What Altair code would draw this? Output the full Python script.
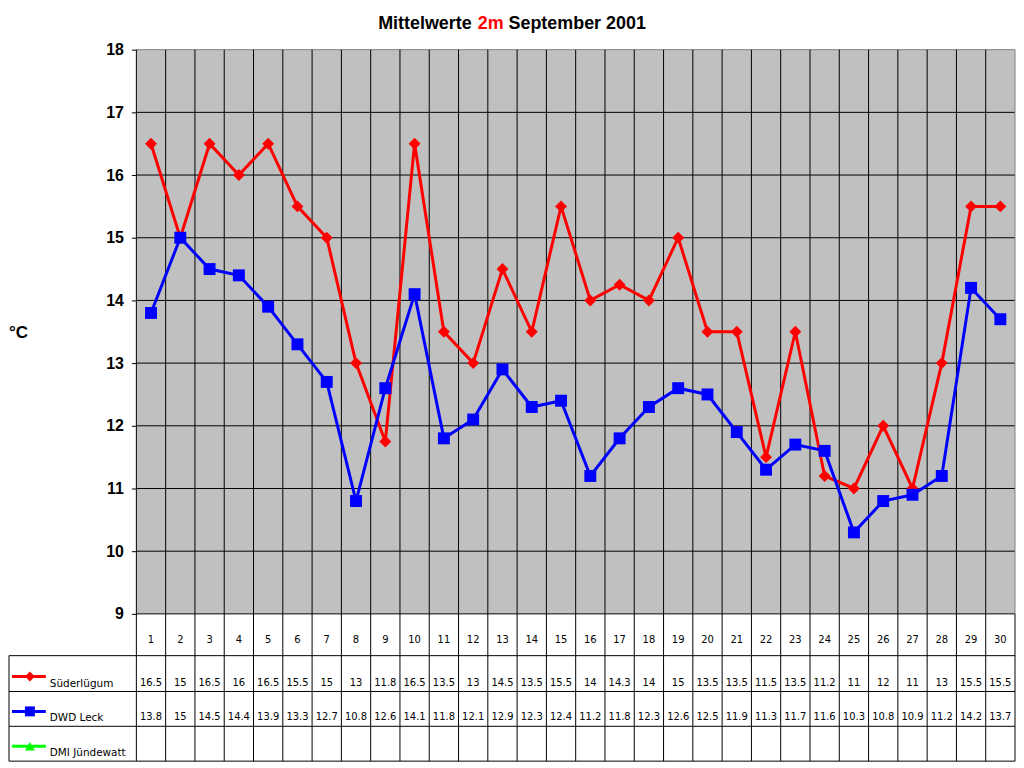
import altair as alt
import pandas as pd

# ---------------- data ----------------
DAYS = list(range(1, 31))
SERIES = ["Süderlügum", "DWD Leck", "DMI Jündewatt"]
COLORS = ["#FF0000", "#0000FF", "#00FF00"]
SHAPES = ["diamond", "square", "triangle-up"]

SUEDERLUEGUM = [16.5, 15, 16.5, 16, 16.5, 15.5, 15, 13, 11.75, 16.5,
                13.5, 13, 14.5, 13.5, 15.5, 14, 14.25, 14, 15, 13.5,
                13.5, 11.5, 13.5, 11.2, 11, 12, 11, 13, 15.5, 15.5]
DWD_LECK = [13.8, 15, 14.5, 14.4, 13.9, 13.3, 12.7, 10.8, 12.6, 14.1,
            11.8, 12.1, 12.9, 12.3, 12.4, 11.2, 11.8, 12.3, 12.6, 12.5,
            11.9, 11.3, 11.7, 11.6, 10.3, 10.8, 10.9, 11.2, 14.2, 13.7]
DMI_JUENDEWATT = []  # no values in the table

VALUES = {SERIES[0]: SUEDERLUEGUM, SERIES[1]: DWD_LECK, SERIES[2]: DMI_JUENDEWATT}

Y_TICKS = list(range(9, 19))
TITLE_PARTS = ["Mittelwerte", "2m", "September 2001"]
TITLE_COLORS = ["#000000", "#FF0000", "#000000"]
UNIT = "°C"

# ---------------- layout ----------------
W, H = 1011, 755
PLOT_L, PLOT_R = 128, 1011
PLOT_T, PLOT_B = 40, 607
TABLE_LINES = [649, 685, 720, 755]          # bottom of header + row bottoms
ROW_TEXT_Y = [676, 711, 746]
ROW_SYM_Y = [670, 705, 740]
HEADER_Y = 633
GRAY = "#C0C0C0"
BORDER = "#808080"
NUM_FONT = "DejaVu Sans"
BOLD_FONT = "Liberation Sans"

rows = []
for name in SERIES:
    for d, v in zip(DAYS, VALUES[name]):
        rows.append({"day": d, "series": name, "value": v})
df = pd.DataFrame(rows, columns=["day", "series", "value"])

xscale = alt.Scale(domain=[DAYS[0] - 0.5, DAYS[-1] + 0.5], range=[PLOT_L, PLOT_R], nice=False, zero=False)
yscale = alt.Scale(domain=[Y_TICKS[0], Y_TICKS[-1]], range=[PLOT_B, PLOT_T], nice=False, zero=False)
color_scale = alt.Scale(domain=SERIES, range=COLORS)
shape_scale = alt.Scale(domain=SERIES, range=SHAPES)

X0, X1 = DAYS[0] - 0.5, DAYS[-1] + 0.5
Y0, Y1 = Y_TICKS[0], Y_TICKS[-1]

yaxis = alt.Axis(values=Y_TICKS, format="d", offset=-PLOT_L, tickSize=5, tickColor="black", tickWidth=1,
                 domain=False, grid=False, labelFont=BOLD_FONT, labelFontSize=16,
                 labelFontWeight="bold", labelColor="black", labelPadding=8, title=None)

layers = []

# plot background
bg = alt.Chart(pd.DataFrame({"x": [X0], "x2": [X1], "y": [Y0], "y2": [Y1]})).mark_rect(
    fill=GRAY).encode(
    x=alt.X("x:Q", scale=xscale, axis=None), x2="x2:Q",
    y=alt.Y("y:Q", scale=yscale, axis=yaxis), y2="y2:Q")
layers.append(bg)

# horizontal grid lines (9..17 black)
hgrid = alt.Chart(pd.DataFrame({"t": Y_TICKS[:-1]})).mark_rule(color="black", strokeWidth=1).encode(
    x=alt.datum(X0), x2=alt.datum(X1), y=alt.Y("t:Q"))
layers.append(hgrid)

# top border (gray)
top = alt.Chart(pd.DataFrame({"t": [Y1]})).mark_rule(color=BORDER, strokeWidth=1).encode(
    x=alt.datum(X0), x2=alt.datum(X1), y=alt.Y("t:Q"))
layers.append(top)

# vertical day boundaries through plot and table
vb = alt.Chart(pd.DataFrame({"b": [d - 0.5 for d in DAYS]})).mark_rule(color="black", strokeWidth=1).encode(
    x=alt.X("b:Q"), y=alt.value(PLOT_T), y2=alt.value(TABLE_LINES[-1]))
layers.append(vb)

# right border: gray in plot, black in table
layers.append(alt.Chart(pd.DataFrame({"b": [X1]})).mark_rule(color=BORDER, strokeWidth=1).encode(
    x=alt.X("b:Q"), y=alt.value(PLOT_T), y2=alt.value(PLOT_B)))
layers.append(alt.Chart(pd.DataFrame({"b": [X1]})).mark_rule(color="black", strokeWidth=1).encode(
    x=alt.X("b:Q"), y=alt.value(PLOT_B), y2=alt.value(TABLE_LINES[-1])))

# table lines
for ty in TABLE_LINES:
    layers.append(alt.Chart(pd.DataFrame({"a": [0]})).mark_rule(color="black", strokeWidth=1).encode(
        x=alt.value(0), x2=alt.value(W), y=alt.value(ty)))
layers.append(alt.Chart(pd.DataFrame({"a": [0]})).mark_rule(color="black", strokeWidth=1).encode(
    x=alt.value(0), y=alt.value(TABLE_LINES[0]), y2=alt.value(TABLE_LINES[-1])))

# data lines and markers
lines = alt.Chart(df).mark_line(strokeWidth=3).encode(
    x=alt.X("day:Q"), y=alt.Y("value:Q"),
    color=alt.Color("series:N", scale=color_scale, legend=None),
    detail="series:N")
pts = alt.Chart(df).mark_point(filled=True, opacity=1, size=144, strokeWidth=0).encode(
    x=alt.X("day:Q"), y=alt.Y("value:Q"),
    color=alt.Color("series:N", scale=color_scale, legend=None),
    shape=alt.Shape("series:N", scale=shape_scale, legend=None))
layers += [lines, pts]

# header row with day numbers
layers.append(alt.Chart(pd.DataFrame({"day": DAYS})).mark_text(
    font=NUM_FONT, fontSize=10, color="black", baseline="middle").encode(
    x=alt.X("day:Q"), y=alt.value(HEADER_Y), text=alt.Text("day:Q")))

# value rows + legend
for i, name in enumerate(SERIES):
    sub = df[df["series"] == name]
    if len(sub):
        layers.append(alt.Chart(sub).mark_text(
            font=NUM_FONT, fontSize=10, color="black", baseline="middle").encode(
            x=alt.X("day:Q"), y=alt.value(ROW_TEXT_Y[i]),
            text=alt.Text("value:Q", format=".1~f")))
    leg = pd.DataFrame({"series": [name]})
    layers.append(alt.Chart(leg).mark_rule(strokeWidth=3).encode(
        x=alt.value(3), x2=alt.value(37), y=alt.value(ROW_SYM_Y[i]),
        color=alt.Color("series:N", scale=color_scale, legend=None)))
    layers.append(alt.Chart(leg).mark_point(filled=True, opacity=1, size=100, strokeWidth=0).encode(
        x=alt.value(21), y=alt.value(ROW_SYM_Y[i]),
        color=alt.Color("series:N", scale=color_scale, legend=None),
        shape=alt.Shape("series:N", scale=shape_scale, legend=None)))
    layers.append(alt.Chart(leg).mark_text(
        font=NUM_FONT, fontSize=10.5, color="black", align="left", baseline="middle").encode(
        x=alt.value(41), y=alt.value(ROW_TEXT_Y[i] + 1), text="series:N"))

# unit label
layers.append(alt.Chart(pd.DataFrame({"t": [UNIT]})).mark_text(
    font=BOLD_FONT, fontSize=17, fontWeight="bold", color="black", align="left",
    baseline="alphabetic").encode(x=alt.value(0), y=alt.value(330), text="t:N"))

# title in three coloured parts
title_x = [465, 471, 502]
title_align = ["right", "left", "left"]
for part, col, tx, al in zip(TITLE_PARTS, TITLE_COLORS, title_x, title_align):
    layers.append(alt.Chart(pd.DataFrame({"t": [part]})).mark_text(
        font=BOLD_FONT, fontSize=18, fontWeight="bold", color=col, align=al,
        baseline="alphabetic").encode(x=alt.value(tx), y=alt.value(19.5), text="t:N"))

chart = alt.layer(*layers).properties(width=W, height=H, padding=0, background="white").configure_view(
    stroke=None)

chart.save("out.html", embed_options={"renderer": "svg", "actions": False})
